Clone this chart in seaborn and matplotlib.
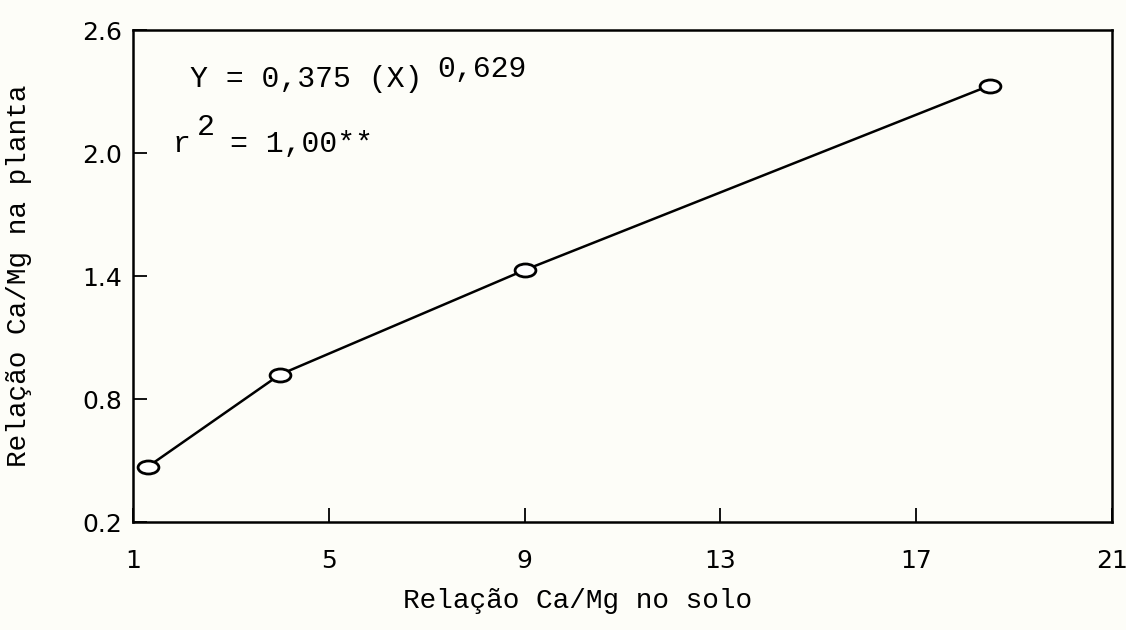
#!/usr/bin/env python3
"""Ca/Mg ratio in plant vs soil, power fit."""

import matplotlib

matplotlib.use("Agg")

import matplotlib.pyplot as plt
import pandas as pd
import seaborn as sns
from matplotlib.path import Path

# values
soil_ratio = [1.3, 4.0, 9.0, 18.5]
plant_ratio = [0.47, 0.92, 1.43, 2.33]

x_ticks = [1, 5, 9, 13, 17, 21]
y_ticks = [0.2, 0.8, 1.4, 2.0, 2.6]
y_tick_labels = ["0.2", "0.8", "1.4", "2.0", "2.6"]

MONO = "Liberation Mono"
BG = "#fdfdf8"


def main() -> None:
    sns.set_theme(style="ticks")
    plt.rcParams.update(
        {
            "font.family": ["DejaVu Sans"],
            "axes.edgecolor": "black",
            "axes.linewidth": 1.8,
            "xtick.direction": "in",
            "ytick.direction": "in",
            "xtick.major.size": 10,
            "ytick.major.size": 10,
            "xtick.major.width": 1.3,
            "ytick.major.width": 1.3,
        }
    )

    df = pd.DataFrame({"soil": soil_ratio, "plant": plant_ratio})

    # flat oval marker like the hand-drawn symbols
    circ = Path.unit_circle()
    oval = Path(circ.vertices * [1.6, 1.0], circ.codes)

    fig = plt.figure(figsize=(11.26, 6.3), dpi=100, facecolor=BG)
    ax = fig.add_axes([0.118, 0.171, 0.8696, 0.781])
    ax.set_facecolor(BG)

    sns.lineplot(
        data=df,
        x="soil",
        y="plant",
        ax=ax,
        color="black",
        linewidth=1.8,
        marker=oval,
        markersize=15,
        markerfacecolor="white",
        markeredgecolor="black",
        markeredgewidth=2.0,
    )

    ax.set_xlim(1, 21)
    ax.set_ylim(0.2, 2.6)
    ax.set_xticks(x_ticks)
    ax.set_yticks(y_ticks)
    ax.set_yticklabels(y_tick_labels)
    ax.tick_params(axis="both", labelsize=18, colors="black")
    ax.tick_params(axis="x", pad=19)
    ax.tick_params(axis="y", pad=8)

    ax.set_xlabel("Relação Ca/Mg no solo", family=MONO, fontsize=20, color="black")
    ax.set_ylabel("Relação Ca/Mg na planta", family=MONO, fontsize=20, color="black")
    ax.xaxis.set_label_coords(0.4545, -0.134)
    ax.yaxis.set_label_coords(-0.103, 0.5)

    txt = dict(family=MONO, fontsize=21.5, color="black", va="baseline")
    ax.text(2.16, 2.322, "Y = 0,375 (X)", **txt)
    ax.text(7.21, 2.371, "0,629", **txt)
    ax.text(1.82, 2.005, "r", **txt)
    ax.text(2.31, 2.088, "2", **txt)
    ax.text(2.98, 2.005, "= 1,00**", **txt)

    fig.savefig("out.png", dpi=100, facecolor=fig.get_facecolor())
    plt.close(fig)


if __name__ == "__main__":
    main()
